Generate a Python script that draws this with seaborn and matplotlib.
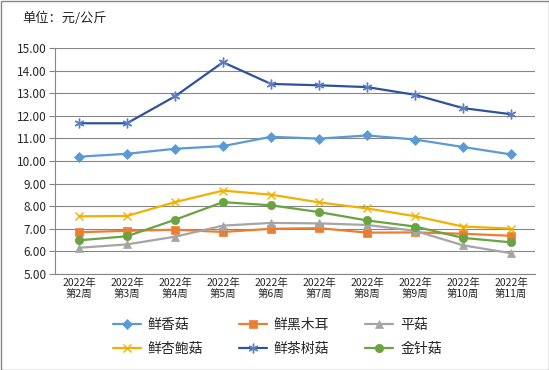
import matplotlib
matplotlib.use("Agg")
import matplotlib.pyplot as plt
import seaborn as sns
import pandas as pd
from matplotlib.patches import Rectangle

weeks = ["2022年\n第2周", "2022年\n第3周", "2022年\n第4周", "2022年\n第5周", "2022年\n第6周",
         "2022年\n第7周", "2022年\n第8周", "2022年\n第9周", "2022年\n第10周", "2022年\n第11周"]
xianxianggu = [10.19, 10.32, 10.54, 10.66, 11.07, 10.99, 11.13, 10.95, 10.62, 10.29]
heimuer = [6.85, 6.91, 6.96, 6.86, 7.00, 7.03, 6.83, 6.84, 6.78, 6.69]
pinggu = [6.16, 6.31, 6.65, 7.14, 7.26, 7.24, 7.17, 6.91, 6.27, 5.92]
xingbaogu = [7.55, 7.57, 8.18, 8.69, 8.51, 8.17, 7.90, 7.56, 7.10, 7.01]
chashugu = [11.67, 11.67, 12.86, 14.37, 13.41, 13.35, 13.27, 12.93, 12.34, 12.07]
jinzhengu = [6.49, 6.67, 7.40, 8.18, 8.04, 7.74, 7.37, 7.10, 6.60, 6.40]

names = ["鲜香菇", "鲜黑木耳", "平菇", "鲜杏鲍菇", "鲜茶树菇", "金针菇"]
series = [xianxianggu, heimuer, pinggu, xingbaogu, chashugu, jinzhengu]
colors = ["#5B9BD5", "#ED7D31", "#A5A5A5", "#F2B000", "#2F529B", "#6AA342"]
markers = ["D", "s", "^", "x", (6, 2, 0), "o"]
msizes = [5, 6, 6, 6, 7, 6]

rows = []
for n, vals in zip(names, series):
    for i, v in enumerate(vals):
        rows.append({"week": i, "label": weeks[i], "series": n, "price": v})
df = pd.DataFrame(rows)

sns.set_theme(style="white")
plt.rcParams['font.family'] = ['Noto Sans CJK SC', 'DejaVu Sans']

fig = plt.figure(figsize=(5.49, 3.70), dpi=100)
ax = fig.add_axes([55/549, 1 - 274/370, 480/549, 226/370])

for n, c, m, ms in zip(names, colors, markers, msizes):
    sub = df[df["series"] == n]
    mc = "#5B7FC4" if n == "鲜茶树菇" else c
    sns.lineplot(data=sub, x="week", y="price", ax=ax, color=c, marker=m,
                 markersize=ms, linewidth=1.6, markeredgecolor=mc, markerfacecolor=mc,
                 markeredgewidth=1.0 if m in ("x", (6, 2, 0)) else 0.5,
                 label=n, legend=False)

ax.set_xlim(-0.5, 9.5)
ax.set_ylim(5, 15)
ax.set_yticks([5, 6, 7, 8, 9, 10, 11, 12, 13, 14, 15])
ax.set_yticklabels([f"{v:.2f}" for v in range(5, 16)], fontsize=8.5)
ax.set_xticks(range(10))
ax.set_xticklabels(weeks, fontsize=7.5, linespacing=1.1)
ax.set_xticks([i - 0.5 for i in range(11)], minor=True)
ax.tick_params(axis="x", which="major", length=0, pad=3)
ax.tick_params(axis="x", which="minor", length=4, color="#868686", width=0.8, direction="out")
ax.tick_params(axis="y", length=4, color="#868686", width=0.8, direction="out", pad=2, left=True)
ax.set_xlabel("")
ax.set_ylabel("")
ax.grid(axis="y", color="#868686", linewidth=0.8)
for s in ["top", "right"]:
    ax.spines[s].set_visible(False)
for s in ["left", "bottom"]:
    ax.spines[s].set_color("#868686")
    ax.spines[s].set_linewidth(0.8)

fig.text(22/549, 1 - 18/370, "单位：元/公斤", fontsize=9.5, va="center", ha="left")

h, l = ax.get_legend_handles_labels()
order = [0, 3, 1, 4, 2, 5]
leg = fig.legend([h[i] for i in order], [l[i] for i in order], ncol=3,
                 loc="center", bbox_to_anchor=(0.505, 1 - 337/370), frameon=False,
                 fontsize=10, handlelength=2.0, columnspacing=2.6,
                 handletextpad=0.5, labelspacing=0.75)

fig.patches.append(Rectangle((0.5/549, 0.5/370), 1 - 1/549, 1 - 1/370, transform=fig.transFigure,
                             fill=False, edgecolor="#868686", linewidth=1))

fig.savefig("out.png", dpi=100)
